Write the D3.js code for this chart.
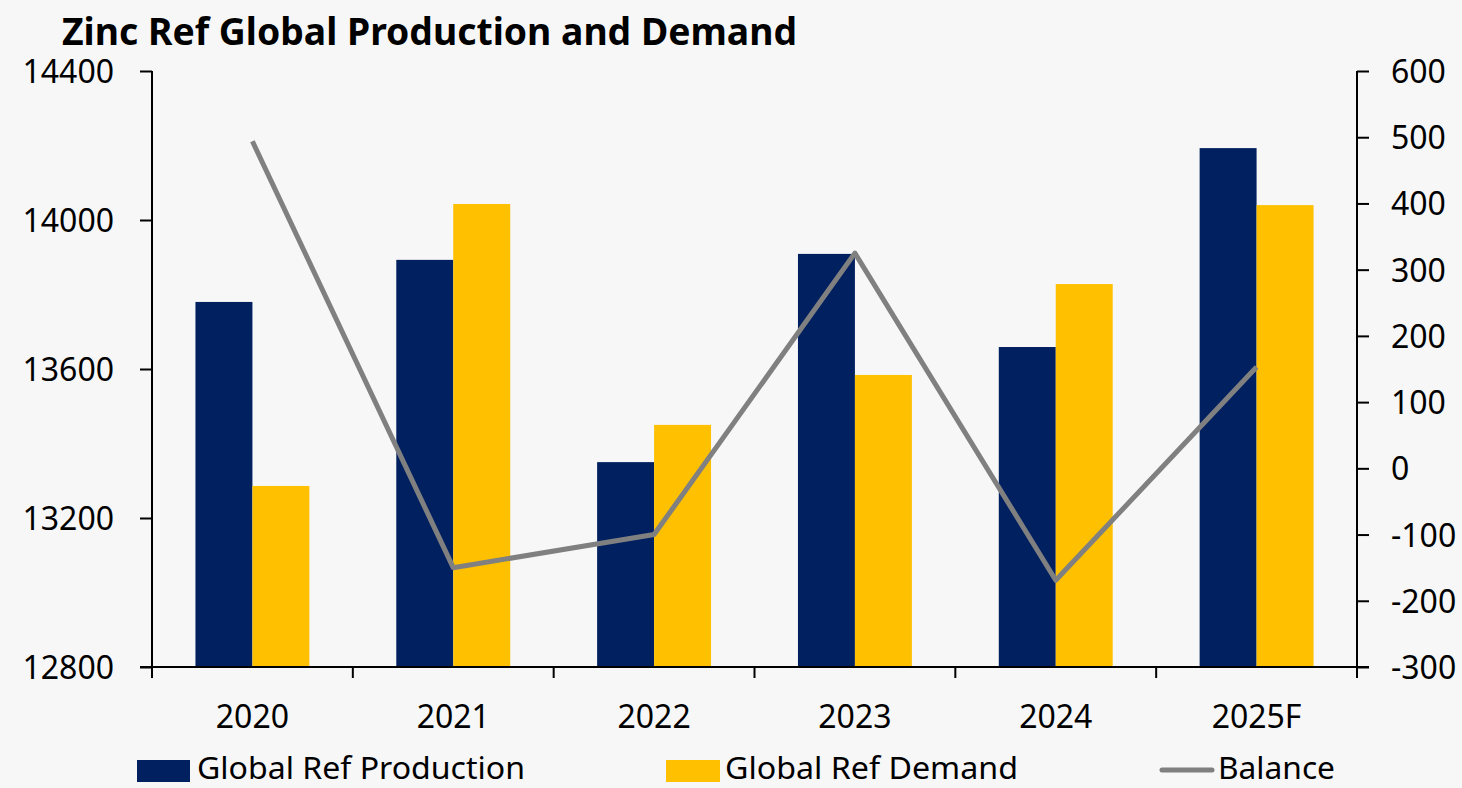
<!DOCTYPE html>
<html><head><meta charset="utf-8">
<script src="https://cdn.jsdelivr.net/npm/d3@7"></script>
<style>
html,body{margin:0;padding:0;background:#f7f7f7;}
svg text{font-family:"Noto Sans","Open Sans",sans-serif;fill:#000;}
</style></head>
<body>
<svg id="chart" width="1462" height="788"></svg>
<script>
const categories = ["2020","2021","2022","2023","2024","2025F"];
const production = [13780, 13893, 13350, 13909, 13659, 14193];
const demand = [13286, 14043, 13450, 13584, 13828, 14040];
const balance = [494, -150, -100, 325, -169, 153];
const leftTicks = [12800, 13200, 13600, 14000, 14400];
const rightTicks = [-300, -200, -100, 0, 100, 200, 300, 400, 500, 600];
const seriesNames = ["Global Ref Production", "Global Ref Demand", "Balance"];
const colors = {prod: "#002060", dem: "#FFC000", bal: "#808080"};

const svg = d3.select("#chart");
const L = 152, R = 1357, T = 71, B = 667;

const x0 = d3.scaleBand().domain(categories).range([L, R]).padding(0);
const x1 = d3.scaleBand().domain(["prod","dem"]).range([0, x0.bandwidth()]).paddingInner(0).paddingOuter(0.763);
const yL = d3.scaleLinear().domain([12800, 14400]).range([B, T]);
const yR = d3.scaleLinear().domain([-300, 600]).range([B, T]);
const fmt = d => String(d);

// Title
svg.append("text").attr("x", 62).attr("y", 45)
  .attr("font-size", 38).attr("font-weight", "bold")
  .attr("textLength", 735).attr("lengthAdjust", "spacingAndGlyphs")
  .text("Zinc Ref Global Production and Demand");

// Bars
const g = svg.append("g");
categories.forEach((c, i) => {
  g.append("rect").attr("x", x0(c) + x1("prod")).attr("width", x1.bandwidth())
    .attr("y", yL(production[i])).attr("height", B - yL(production[i])).attr("fill", colors.prod);
  g.append("rect").attr("x", x0(c) + x1("dem")).attr("width", x1.bandwidth())
    .attr("y", yL(demand[i])).attr("height", B - yL(demand[i])).attr("fill", colors.dem);
});

// Left axis
const axL = svg.append("g").attr("transform", `translate(${L},0)`)
  .call(d3.axisLeft(yL).tickValues(leftTicks).tickSize(12).tickPadding(26).tickFormat(fmt));
axL.select(".domain").attr("d", `M0,${T}V${B+11}`).attr("stroke", "#000").attr("stroke-width", 2);
axL.selectAll(".tick line").attr("stroke", "#000").attr("stroke-width", 2);
axL.selectAll(".tick text").attr("font-size", 32).attr("font-family", "Noto Sans").attr("dy", "0.36em").attr("fill", "#000");

// Right axis
const axR = svg.append("g").attr("transform", `translate(${R},0)`)
  .call(d3.axisRight(yR).tickValues(rightTicks).tickSize(12).tickPadding(22).tickFormat(fmt));
axR.select(".domain").attr("d", `M0,${T}V${B+11}`).attr("stroke", "#000").attr("stroke-width", 2);
axR.selectAll(".tick line").attr("stroke", "#000").attr("stroke-width", 2);
axR.selectAll(".tick text").attr("font-size", 32).attr("font-family", "Noto Sans").attr("dy", "0.36em").attr("fill", "#000");

// Bottom axis
const axB = svg.append("g").attr("transform", `translate(0,${B})`);
axB.append("line").attr("x1", L - 12).attr("x2", R + 12).attr("y1", 0).attr("y2", 0).attr("stroke", "#000").attr("stroke-width", 2);
const bounds = categories.map(c => x0(c)).concat([R]);
axB.selectAll("line.t").data(bounds).join("line").attr("class","t")
  .attr("x1", d => d).attr("x2", d => d).attr("y1", 0).attr("y2", 11).attr("stroke", "#000").attr("stroke-width", 2);
axB.selectAll("text").data(categories).join("text")
  .attr("x", d => x0(d) + x0.bandwidth()/2).attr("y", 61)
  .attr("text-anchor", "middle").attr("font-size", 32).text(d => d);

// Balance line
const line = d3.line().x((d, i) => x0(categories[i]) + x0.bandwidth()/2).y(d => yR(d));
svg.append("path").datum(balance).attr("d", line)
  .attr("fill", "none").attr("stroke", colors.bal).attr("stroke-width", 5).attr("stroke-linejoin", "round");

// Legend
const lg = svg.append("g");
const ly = 779;
lg.append("rect").attr("x", 137).attr("y", 760).attr("width", 53).attr("height", 22).attr("fill", colors.prod);
lg.append("text").attr("x", 197).attr("y", ly).attr("font-size", 30)
  .attr("textLength", 328).attr("lengthAdjust", "spacingAndGlyphs").text(seriesNames[0]);
lg.append("rect").attr("x", 666).attr("y", 760).attr("width", 54).attr("height", 22).attr("fill", colors.dem);
lg.append("text").attr("x", 725).attr("y", ly).attr("font-size", 30)
  .attr("textLength", 293).attr("lengthAdjust", "spacingAndGlyphs").text(seriesNames[1]);
lg.append("line").attr("x1", 1162).attr("x2", 1212).attr("y1", 770).attr("y2", 770)
  .attr("stroke", colors.bal).attr("stroke-width", 5).attr("stroke-linecap", "round");
lg.append("text").attr("x", 1218).attr("y", ly).attr("font-size", 30)
  .attr("textLength", 117).attr("lengthAdjust", "spacingAndGlyphs").text(seriesNames[2]);
</script>
</body></html>
